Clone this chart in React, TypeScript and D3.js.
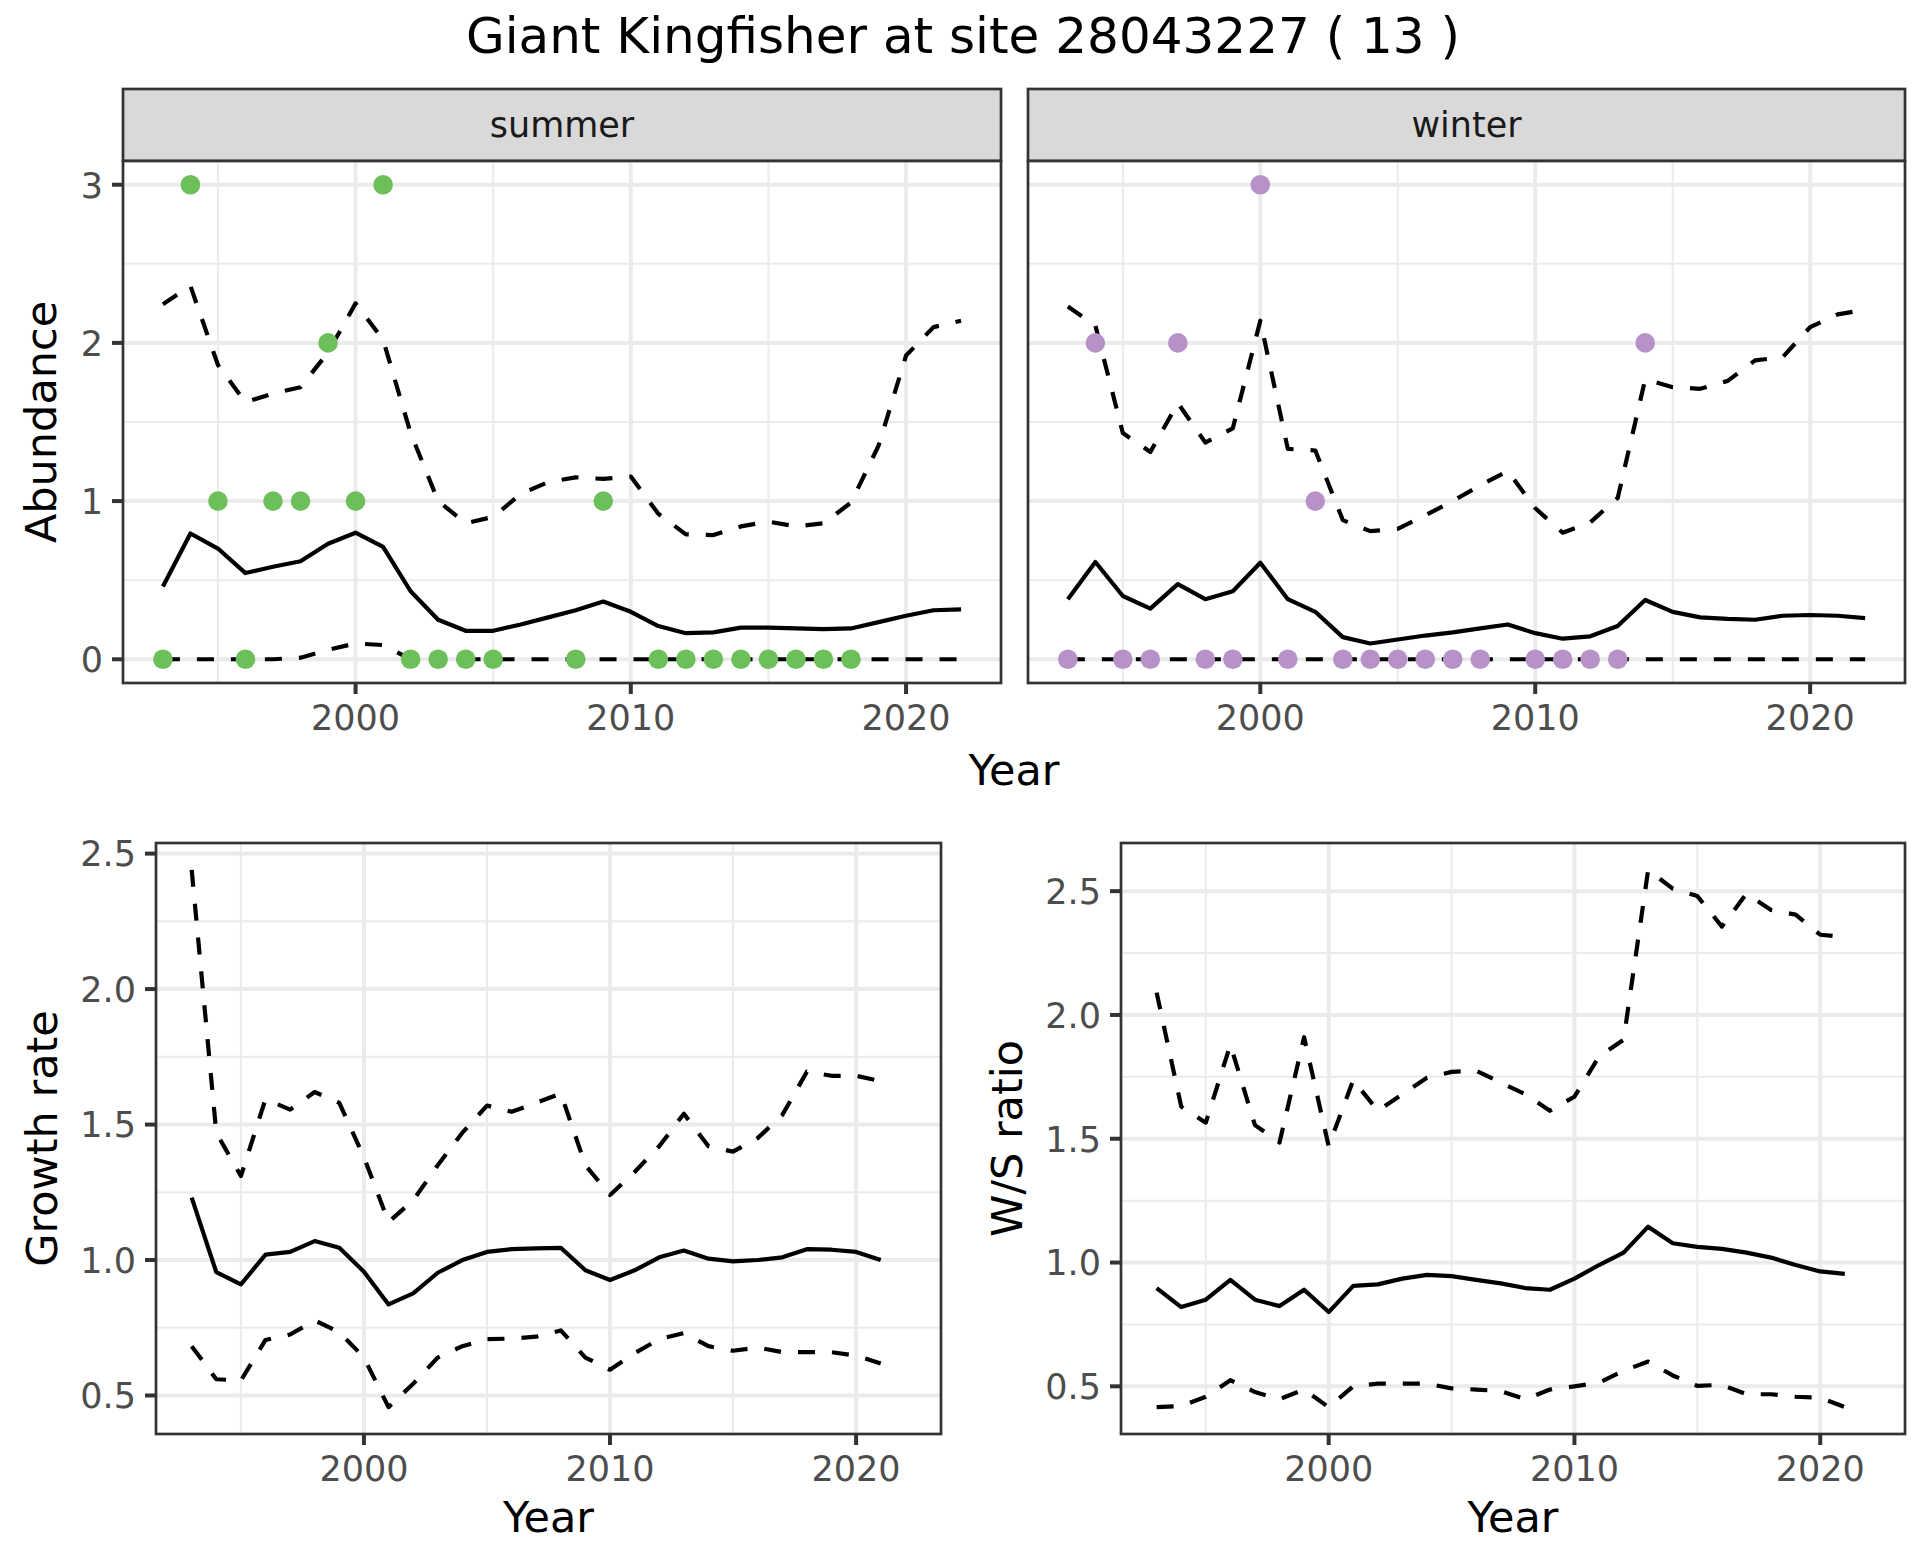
import { useEffect } from 'react';
import * as d3 from 'd3';

// ---- data ----
const yearsTop = [
  1993, 1994, 1995, 1996, 1997, 1998, 1999, 2000, 2001, 2002, 2003, 2004, 2005, 2006, 2007,
  2008, 2009, 2010, 2011, 2012, 2013, 2014, 2015, 2016, 2017, 2018, 2019, 2020, 2021, 2022,
];
const yearsBottom = yearsTop.slice(0, 29);

const facets = ['summer', 'winter'];

const summerCount = [0, 3, 1, 0, 1, 1, 2, 1, 3, 0, 0, 0, 0, null, null, 0, 1, null, 0, 0, 0, 0, 0, 0, 0, 0, null, null, null, null];
const summerMean = [0.46, 0.795, 0.7, 0.545, 0.585, 0.62, 0.73, 0.8, 0.71, 0.43, 0.25, 0.18, 0.18, 0.22, 0.265, 0.31, 0.365, 0.3, 0.21, 0.165, 0.17, 0.2, 0.2, 0.195, 0.19, 0.195, 0.235, 0.275, 0.31, 0.315];
const summerUpper = [2.245, 2.36, 1.86, 1.625, 1.68, 1.72, 1.94, 2.25, 2.02, 1.43, 1.0, 0.86, 0.9, 1.045, 1.12, 1.15, 1.14, 1.155, 0.92, 0.79, 0.785, 0.84, 0.87, 0.84, 0.86, 0.99, 1.35, 1.92, 2.1, 2.14];
const summerLower = [0, 0, 0, 0, 0, 0.01, 0.06, 0.1, 0.09, 0, 0, 0, 0, 0, 0, 0, 0, 0, 0, 0, 0, 0, 0, 0, 0, 0, 0, 0, 0, 0];

const winterCount = [0, 2, 0, 0, 2, 0, 0, 3, 0, 1, 0, 0, 0, 0, 0, 0, null, 0, 0, 0, 0, 2, null, null, null, null, null, null, null, null];
const winterMean = [0.38, 0.615, 0.4, 0.32, 0.475, 0.38, 0.43, 0.61, 0.38, 0.3, 0.14, 0.1, 0.125, 0.15, 0.17, 0.195, 0.22, 0.165, 0.13, 0.145, 0.21, 0.375, 0.3, 0.265, 0.255, 0.25, 0.275, 0.28, 0.275, 0.26];
const winterUpper = [2.23, 2.11, 1.43, 1.31, 1.62, 1.37, 1.46, 2.14, 1.33, 1.32, 0.88, 0.81, 0.825, 0.91, 1.0, 1.1, 1.19, 0.955, 0.8, 0.865, 1.02, 1.77, 1.72, 1.71, 1.76, 1.89, 1.91, 2.1, 2.18, 2.21];
const winterLower = [0, 0, 0, 0, 0, 0, 0, 0, 0, 0, 0, 0, 0, 0, 0, 0, 0, 0, 0, 0, 0, 0, 0, 0, 0, 0, 0, 0, 0, 0];

const growthMean = [1.23, 0.955, 0.91, 1.02, 1.03, 1.07, 1.045, 0.957, 0.836, 0.877, 0.953, 1.0, 1.03, 1.04, 1.043, 1.045, 0.962, 0.926, 0.962, 1.01, 1.035, 1.005, 0.995, 1.0, 1.01, 1.04, 1.038, 1.03, 1.0];
const growthUpper = [2.44, 1.47, 1.31, 1.594, 1.555, 1.62, 1.58, 1.38, 1.14, 1.22, 1.35, 1.47, 1.57, 1.547, 1.58, 1.615, 1.35, 1.24, 1.325, 1.42, 1.54, 1.42, 1.4, 1.45, 1.535, 1.695, 1.68, 1.68, 1.66];
const growthLower = [0.682, 0.56, 0.555, 0.705, 0.725, 0.777, 0.734, 0.64, 0.457, 0.543, 0.64, 0.682, 0.708, 0.71, 0.717, 0.74, 0.64, 0.595, 0.656, 0.708, 0.73, 0.682, 0.665, 0.677, 0.66, 0.66, 0.66, 0.647, 0.618];

const wsMean = [0.897, 0.82, 0.85, 0.93, 0.85, 0.824, 0.89, 0.8, 0.906, 0.912, 0.935, 0.95, 0.945, 0.93, 0.916, 0.897, 0.89, 0.935, 0.99, 1.04, 1.145, 1.078, 1.063, 1.055, 1.04, 1.02, 0.99, 0.964, 0.954];
const wsUpper = [2.09, 1.63, 1.565, 1.88, 1.555, 1.485, 1.91, 1.47, 1.737, 1.613, 1.68, 1.746, 1.77, 1.775, 1.727, 1.68, 1.613, 1.67, 1.832, 1.9, 2.586, 2.51, 2.48, 2.357, 2.49, 2.424, 2.405, 2.324, 2.315];
const wsLower = [0.416, 0.42, 0.458, 0.525, 0.477, 0.448, 0.487, 0.416, 0.5, 0.511, 0.511, 0.511, 0.492, 0.487, 0.481, 0.448, 0.487, 0.5, 0.515, 0.563, 0.6, 0.544, 0.502, 0.506, 0.468, 0.468, 0.458, 0.454, 0.416];

const xBreaks = [2000, 2010, 2020];
const abundanceBreaks = [0, 1, 2, 3];
const ratioBreaks = [0.5, 1.0, 1.5, 2.0, 2.5];

const pointColors = ['#6dbf5a', '#b692c9'];

// ---- look ----
const W = 1920;
const H = 1560;
const FONT = '"DejaVu Sans", sans-serif';
const TICK_FS = 35;
const AXIS_FS = 43;
const LINE_W = 4.2;
const DASH = '17,17';

const expand = (ext: [number, number]): [number, number] => {
  const p = (ext[1] - ext[0]) * 0.05;
  return [ext[0] - p, ext[1] + p];
};

const midpoints = (b: number[], dom: number[]) => {
  const step = b[1] - b[0];
  const out: number[] = [];
  for (let v = b[0] - step / 2; v <= dom[1]; v += step) if (v >= dom[0]) out.push(v);
  return out;
};

type Series = { values: (number | null)[]; dashed?: boolean };

function Panel(props: {
  left: number; right: number; top: number; bottom: number;
  years: number[]; xDomain: [number, number]; yDomain: [number, number];
  yBreaks: number[]; yFmt: (v: number) => string; showY: boolean;
  lines: Series[]; counts?: (number | null)[]; color?: string;
}) {
  const { left, right, top, bottom, years, xDomain, yDomain, yBreaks, yFmt, showY, lines, counts, color } = props;
  const x = d3.scaleLinear().domain(xDomain).range([left, right]);
  const y = d3.scaleLinear().domain(yDomain).range([bottom, top]);
  const line = d3
    .line<number | null>()
    .defined((d) => d != null)
    .x((_, i) => x(years[i]))
    .y((d) => y(d as number));

  return (
    <g>
      <rect x={left} y={top} width={right - left} height={bottom - top} fill="#fff" />
      {midpoints(yBreaks, yDomain).map((v) => (
        <line key={'ym' + v} x1={left} x2={right} y1={y(v)} y2={y(v)} stroke="#ebebeb" strokeWidth={2} />
      ))}
      {midpoints(xBreaks, xDomain).map((v) => (
        <line key={'xm' + v} x1={x(v)} x2={x(v)} y1={top} y2={bottom} stroke="#ebebeb" strokeWidth={2} />
      ))}
      {yBreaks.map((v) => (
        <line key={'y' + v} x1={left} x2={right} y1={y(v)} y2={y(v)} stroke="#ebebeb" strokeWidth={4} />
      ))}
      {xBreaks.map((v) => (
        <line key={'x' + v} x1={x(v)} x2={x(v)} y1={top} y2={bottom} stroke="#ebebeb" strokeWidth={4} />
      ))}
      {lines.map((s, i) => (
        <path
          key={'l' + i}
          d={line(s.values) || ''}
          fill="none"
          stroke="#000"
          strokeWidth={LINE_W}
          strokeDasharray={s.dashed ? DASH : undefined}
          strokeLinejoin="round"
        />
      ))}
      {counts &&
        counts.map((c, i) =>
          c == null ? null : <circle key={'p' + i} cx={x(years[i])} cy={y(c)} r={9.8} fill={color} />
        )}
      <rect x={left} y={top} width={right - left} height={bottom - top} fill="none" stroke="#333" strokeWidth={2.7} />
      {xBreaks.map((v) => (
        <g key={'xt' + v}>
          <line x1={x(v)} x2={x(v)} y1={bottom} y2={bottom + 11} stroke="#333" strokeWidth={4} />
          <text x={x(v)} y={bottom + 47} textAnchor="middle" fontSize={TICK_FS} fill="#4d4d4d">
            {v}
          </text>
        </g>
      ))}
      {showY &&
        yBreaks.map((v) => (
          <g key={'yt' + v}>
            <line x1={left - 11} x2={left} y1={y(v)} y2={y(v)} stroke="#333" strokeWidth={4} />
            <text x={left - 20} y={y(v) + 12.8} textAnchor="end" fontSize={TICK_FS} fill="#4d4d4d">
              {yFmt(v)}
            </text>
          </g>
        ))}
    </g>
  );
}

const App = () => {
  useEffect(() => {
    document.body.style.margin = '0';
  }, []);

  const xDomain = expand(d3.extent(yearsTop) as [number, number]);

  const topDomain = expand(
    d3.extent([
      ...summerCount, ...summerUpper, ...summerLower, ...winterCount, ...winterUpper, ...winterLower,
    ].filter((v) => v != null) as number[]) as [number, number]
  );
  const growthDomain = expand(d3.extent([...growthUpper, ...growthLower, ...growthMean]) as [number, number]);
  const wsDomain = expand(d3.extent([...wsUpper, ...wsLower, ...wsMean]) as [number, number]);

  const topTop = 161;
  const topBottom = 683;
  const stripTop = 89;
  const facetX = [
    [123, 1001],
    [1028, 1905],
  ];
  const topSeries = [
    { counts: summerCount, mean: summerMean, upper: summerUpper, lower: summerLower },
    { counts: winterCount, mean: winterMean, upper: winterUpper, lower: winterLower },
  ];

  const botTop = 843;
  const botBottom = 1434;
  const leftX = [156, 941];
  const rightX = [1121, 1905];
  const fmt1 = d3.format('.1f');

  return (
    <svg width={W} height={H} style={{ display: 'block', background: '#fff' }} fontFamily={FONT}>
      <text x={W / 2 + 3} y={53} textAnchor="middle" fontSize={50} fill="#000">
        Giant Kingfisher at site 28043227 ( 13 )
      </text>

      {facets.map((f, i) => (
        <g key={f}>
          <rect
            x={facetX[i][0]}
            y={stripTop}
            width={facetX[i][1] - facetX[i][0]}
            height={topTop - stripTop}
            fill="#d9d9d9"
            stroke="#333"
            strokeWidth={2.7}
          />
          <text x={(facetX[i][0] + facetX[i][1]) / 2} y={137} textAnchor="middle" fontSize={TICK_FS} fill="#1a1a1a">
            {f}
          </text>
          <Panel
            left={facetX[i][0]}
            right={facetX[i][1]}
            top={topTop}
            bottom={topBottom}
            years={yearsTop}
            xDomain={xDomain}
            yDomain={topDomain}
            yBreaks={abundanceBreaks}
            yFmt={(v) => String(v)}
            showY={i === 0}
            lines={[
              { values: topSeries[i].mean },
              { values: topSeries[i].upper, dashed: true },
              { values: topSeries[i].lower, dashed: true },
            ]}
            counts={topSeries[i].counts}
            color={pointColors[i]}
          />
        </g>
      ))}
      <text x={(facetX[0][0] + facetX[1][1]) / 2} y={785} textAnchor="middle" fontSize={AXIS_FS}>
        Year
      </text>
      <text transform={`translate(56,${(topTop + topBottom) / 2}) rotate(-90)`} textAnchor="middle" fontSize={AXIS_FS}>
        Abundance
      </text>

      <Panel
        left={leftX[0]}
        right={leftX[1]}
        top={botTop}
        bottom={botBottom}
        years={yearsBottom}
        xDomain={xDomain}
        yDomain={growthDomain}
        yBreaks={ratioBreaks}
        yFmt={fmt1}
        showY
        lines={[{ values: growthMean }, { values: growthUpper, dashed: true }, { values: growthLower, dashed: true }]}
      />
      <text x={(leftX[0] + leftX[1]) / 2} y={1532} textAnchor="middle" fontSize={AXIS_FS}>
        Year
      </text>
      <text transform={`translate(57,${(botTop + botBottom) / 2}) rotate(-90)`} textAnchor="middle" fontSize={AXIS_FS}>
        Growth rate
      </text>

      <Panel
        left={rightX[0]}
        right={rightX[1]}
        top={botTop}
        bottom={botBottom}
        years={yearsBottom}
        xDomain={xDomain}
        yDomain={wsDomain}
        yBreaks={ratioBreaks}
        yFmt={fmt1}
        showY
        lines={[{ values: wsMean }, { values: wsUpper, dashed: true }, { values: wsLower, dashed: true }]}
      />
      <text x={(rightX[0] + rightX[1]) / 2} y={1532} textAnchor="middle" fontSize={AXIS_FS}>
        Year
      </text>
      <text transform={`translate(1022,${(botTop + botBottom) / 2}) rotate(-90)`} textAnchor="middle" fontSize={AXIS_FS}>
        W/S ratio
      </text>
    </svg>
  );
};

export default App;
